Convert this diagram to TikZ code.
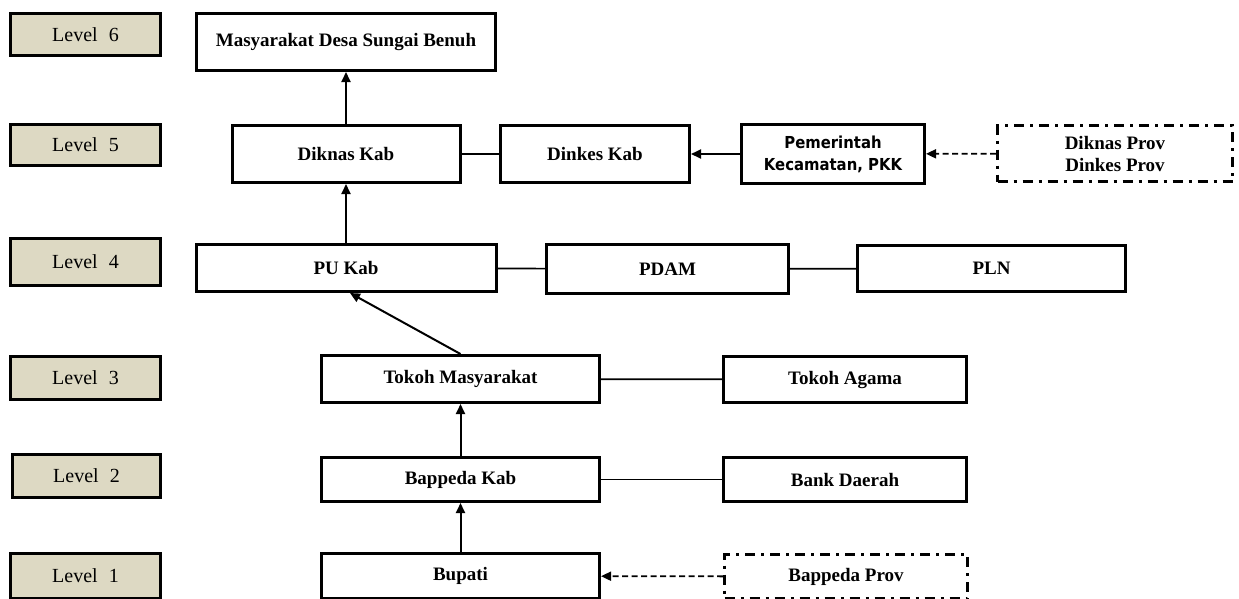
\documentclass[tikz,border=0pt]{standalone}
\usepackage{fontspec}
\setmainfont{Liberation Serif}
\newfontfamily\tahomafont[FakeStretch=0.9]{DejaVu Sans}
\usetikzlibrary{arrows.meta}
\definecolor{lvlfill}{HTML}{DDD9C3}
\tikzset{
  lvlbox/.style={draw, line width=3pt, fill=lvlfill, minimum width=150pt, inner sep=2pt, font=\fontsize{20}{24}\selectfont},
  orgbox/.style={draw, line width=3pt, fill=white, inner sep=2pt, align=center, font=\fontsize{19}{22}\selectfont\bfseries},
  provbox/.style={orgbox, dash pattern=on 10pt off 6pt on 3pt off 6pt},
  arr/.style={line width=2pt, -{Triangle[length=10pt,width=9pt]}},
  darr/.style={arr, line width=1.8pt, dash pattern=on 6pt off 3.5pt},
  link/.style={line width=1.7pt}
}
\begin{document}
\begin{tikzpicture}[x=1pt, y=-1pt]
          \useasboundingbox (0,0) rectangle (1239,598);
          \node[lvlbox, minimum height=42pt] (lid6) at (85.5,34.5){Level\hspace{.55em}6};
          \node[lvlbox, minimum height=41pt] (lid5) at (85.5,145){Level\hspace{.55em}5};
          \node[lvlbox, minimum height=47pt] (lid4) at (85.5,262){Level\hspace{.55em}4};
          \node[lvlbox, minimum height=43pt] (lid3) at (85.5,378){Level\hspace{.55em}3};
          \node[lvlbox, minimum height=43pt, minimum width=148pt] (lid2) at (86.5,476){Level\hspace{.55em}2};
          \node[lvlbox, minimum height=45pt] (lid1) at (85.5,575.5){Level\hspace{.55em}1};
          \node[orgbox, minimum width=299pt, minimum height=57pt] (mds) at (346,42){Masyarakat Desa Sungai Benuh};
          \node[orgbox, minimum width=228pt, minimum height=57pt] (dik) at (346,154){Diknas Kab};
          \node[orgbox, minimum width=189pt, minimum height=57pt] (dnk) at (595,154){Dinkes Kab};
          \node[orgbox, minimum width=183pt, minimum height=59pt, font=\fontsize{16.5}{22}\selectfont\tahomafont\bfseries] (pem) at (833,154){Pemerintah\\Kecamatan, PKK};
          \node[provbox, minimum width=235pt, minimum height=56pt] (dprov) at (1115,153.5){Diknas Prov\\Dinkes Prov};
          \draw[arr](dik) -- (mds);
          \draw[link](dik) -- (dnk);
          \draw[arr](pem) -- (dnk);
          \draw[darr](dprov) -- (pem);
          \node[orgbox, minimum width=300pt, minimum height=47pt] (puk) at (346,268){PU Kab};
          \node[orgbox, minimum width=242pt, minimum height=49pt] (pdam) at (667.5,269){PDAM};
          \node[orgbox, minimum width=268pt, minimum height=46pt] (pln) at (991.5,268.5){PLN};
          \draw[arr](puk) -- (dik);
          \draw[link](puk) -- (pdam);
          \draw[link](pdam) -- (pln);
          \node[orgbox, minimum width=278pt, minimum height=47pt] (tm) at (460.5,379){Tokoh Masyarakat};
          \node[orgbox, minimum width=243pt, minimum height=46pt] (ta) at (845,379.5){Tokoh Agama};
          \draw[arr](tm.north) -- ([xshift=4pt]puk.south);
          \draw[link](tm) -- (ta);
          \node[orgbox, minimum width=278pt, minimum height=44pt] (bk) at (460.5,479.5){Bappeda Kab};
          \node[orgbox, minimum width=243pt, minimum height=44pt] (bd) at (845,479.5){Bank Daerah};
          \draw[arr](bk) -- (tm);
          \draw[link](bk) -- (bd);
          \node[orgbox, minimum width=278pt, minimum height=45pt] (bup) at (460.5,576){Bupati};
          \node[provbox, minimum width=243pt, minimum height=44pt] (bprov) at (846,576.5){Bappeda Prov};
          \draw[arr](bup) -- (bk);
          \draw[darr](bprov) -- (bup);
        \end{tikzpicture}
\end{document}
